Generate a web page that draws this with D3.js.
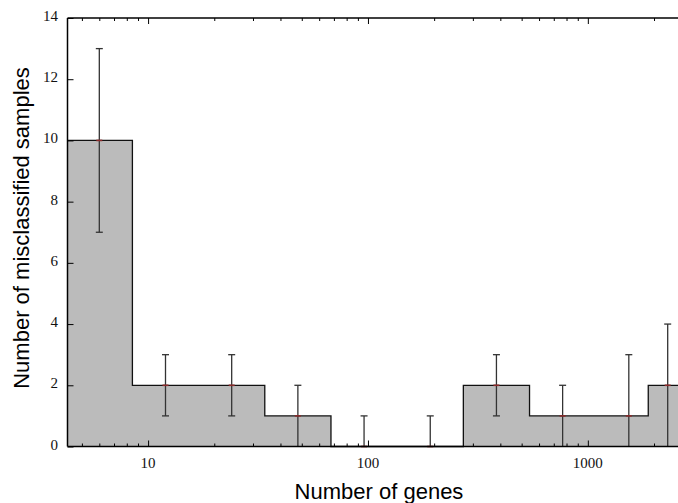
<!DOCTYPE html>
<html>
<head>
<meta charset="utf-8">
<script src="https://cdn.jsdelivr.net/npm/d3@7"></script>
<style>
  body { margin: 0; background: #fff; }
  svg { display: block; }
  .tick-label { font-family: "Liberation Serif", "DejaVu Serif", serif; font-size: 15px; fill: #111; }
  .title { font-family: "Liberation Sans", Arial, sans-serif; font-size: 22px; fill: #000; }
</style>
</head>
<body>
<div id="chart"></div>
<script>
// number of genes (bin centres) and misclassified samples
var genes   = [6, 12, 24, 48, 96, 192, 384, 768, 1536, 2308];
var errors  = [10, 2, 2, 1, 0, 0, 2, 1, 1, 2];
var errLow  = [7, 1, 1, 0, 0, 0, 1, 0, 0, 0];
var errHigh = [13, 3, 3, 2, 1, 1, 3, 2, 3, 4];

var yTicks = [0, 2, 4, 6, 8, 10, 12, 14];
var xMajor = [10, 100, 1000];
var xMinor = [5, 6, 7, 8, 9, 20, 30, 40, 50, 60, 70, 80, 90,
              200, 300, 400, 500, 600, 700, 800, 900, 2000];

var w = 678, h = 503;
var plotL = 67.5, plotR = 689.5, plotT = 18, plotB = 446.5; // 'top' is taken by window.top

var svg = d3.select('#chart').append('svg').attr('width', w).attr('height', h);

var xScale = d3.scaleLog().domain([4.3, 2900]).range([plotL, plotR]);
var yScale = d3.scaleLinear().domain([0, 14]).range([plotB, plotT]);

var data = genes.map(function(g, i){
    return {x: g, y: errors[i], lo: errLow[i], hi: errHigh[i]};
});

// extend the step out to the plot edges
var dom = xScale.domain();
var stepData = [{x: dom[0], y: errors[0]}].concat(data, [{x: dom[1], y: errors[errors.length - 1]}]);

var area = d3.area()
    .x(function(d){ return xScale(d.x); })
    .y0(yScale(0))
    .y1(function(d){ return yScale(d.y); })
    .curve(d3.curveStep);
var line = d3.line()
    .x(function(d){ return xScale(d.x); })
    .y(function(d){ return yScale(d.y); })
    .curve(d3.curveStep);

svg.append('path').datum(stepData)
    .attr('d', area)
    .attr('fill', '#bbbbbb');
svg.append('path').datum(stepData)
    .attr('d', line)
    .attr('fill', 'none')
    .attr('stroke', '#111')
    .attr('stroke-width', 1.3);

// error bars
var eb = svg.append('g').attr('stroke', '#333').attr('stroke-width', 1.3);
eb.selectAll('line.v').data(data).enter().append('line')
    .attr('x1', function(d){ return xScale(d.x); })
    .attr('x2', function(d){ return xScale(d.x); })
    .attr('y1', function(d){ return yScale(d.lo); })
    .attr('y2', function(d){ return yScale(d.hi); });
eb.selectAll('line.top').data(data).enter().append('line')
    .attr('x1', function(d){ return xScale(d.x) - 3.5; })
    .attr('x2', function(d){ return xScale(d.x) + 3.5; })
    .attr('y1', function(d){ return yScale(d.hi); })
    .attr('y2', function(d){ return yScale(d.hi); });
eb.selectAll('line.bot').data(data.filter(function(d){ return d.lo > 0; })).enter().append('line')
    .attr('x1', function(d){ return xScale(d.x) - 3.5; })
    .attr('x2', function(d){ return xScale(d.x) + 3.5; })
    .attr('y1', function(d){ return yScale(d.lo); })
    .attr('y2', function(d){ return yScale(d.lo); });
// small red marks at the values
svg.selectAll('line.mark').data(data).enter().append('line')
    .attr('x1', function(d){ return xScale(d.x) - 3; })
    .attr('x2', function(d){ return xScale(d.x) + 3; })
    .attr('y1', function(d){ return yScale(d.y); })
    .attr('y2', function(d){ return yScale(d.y); })
    .attr('stroke', '#8a2a2a')
    .attr('stroke-width', 1.6);

// frame
var frame = svg.append('g').attr('stroke', '#000').attr('stroke-width', 1.5).attr('fill', 'none');
frame.append('line').attr('x1', plotL).attr('x2', plotR).attr('y1', plotT).attr('y2', plotT);
frame.append('line').attr('x1', plotL).attr('x2', plotR).attr('y1', plotB).attr('y2', plotB);
frame.append('line').attr('x1', plotL).attr('x2', plotL).attr('y1', plotT).attr('y2', plotB);

// x axes, ticks pointing inward
var xAxisBottom = d3.axisTop(xScale).tickValues(xMajor).tickSize(6).tickFormat('');
var xAxisBottomMinor = d3.axisTop(xScale).tickValues(xMinor).tickSize(3).tickFormat('');
var xAxisTop = d3.axisBottom(xScale).tickValues(xMajor).tickSize(6).tickFormat('');
var xAxisTopMinor = d3.axisBottom(xScale).tickValues(xMinor).tickSize(3).tickFormat('');
[[xAxisBottom, plotB], [xAxisBottomMinor, plotB], [xAxisTop, plotT], [xAxisTopMinor, plotT]].forEach(function(a){
    var g = svg.append('g').attr('transform', 'translate(0,' + a[1] + ')').call(a[0]);
    g.select('.domain').remove();
    g.selectAll('.tick line').attr('stroke', '#000').attr('stroke-width', 1);
});
var yAxis = d3.axisRight(yScale).tickValues(yTicks).tickSize(6).tickFormat('');
var gy = svg.append('g').attr('transform', 'translate(' + plotL + ',0)').call(yAxis);
gy.select('.domain').remove();
gy.selectAll('.tick line').attr('stroke', '#000').attr('stroke-width', 1);

// tick labels
svg.selectAll('text.xl').data(xMajor).enter().append('text')
    .attr('class', 'tick-label')
    .attr('x', function(d){ return xScale(d); })
    .attr('y', 468)
    .attr('text-anchor', 'middle')
    .text(function(d){ return d; });
svg.selectAll('text.yl').data(yTicks).enter().append('text')
    .attr('class', 'tick-label')
    .attr('x', 58)
    .attr('y', function(d){ return yScale(d) + 3; })
    .attr('text-anchor', 'end')
    .text(function(d){ return d; });

// titles
svg.append('text').attr('class', 'title')
    .attr('x', 379).attr('y', 499)
    .attr('text-anchor', 'middle')
    .text('Number of genes');
svg.append('text').attr('class', 'title')
    .attr('transform', 'translate(29,228) rotate(-90)')
    .attr('text-anchor', 'middle')
    .text('Number of misclassified samples');
</script>
</body>
</html>
